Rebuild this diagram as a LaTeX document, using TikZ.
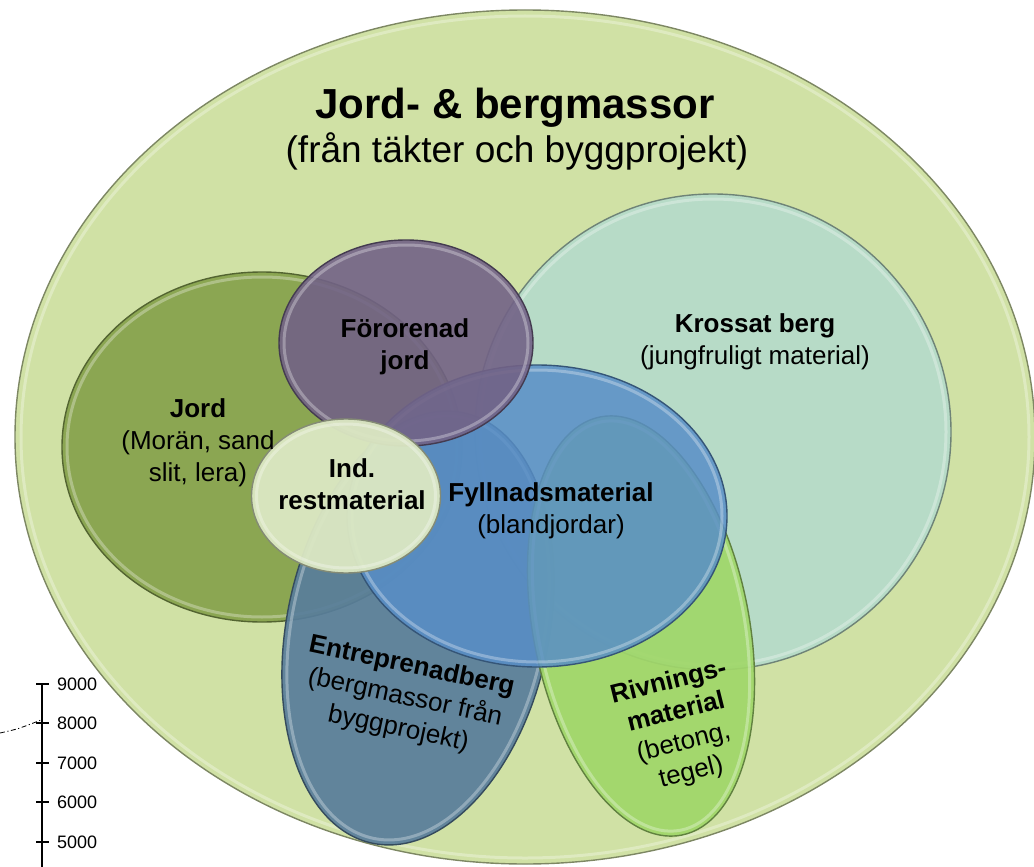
\documentclass[tikz,border=0pt]{standalone}
\usepackage{fontspec}
\setmainfont{Liberation Sans}
\usetikzlibrary{shapes.geometric}
\definecolor{bigc}{RGB}{208,225,165}
\definecolor{jordc}{RGB}{139,166,82}
\definecolor{krossc}{RGB}{183,219,199}
\definecolor{fororc}{RGB}{114,98,134}
\definecolor{fyllc}{RGB}{88,142,199}
\definecolor{entrc}{RGB}{88,125,155}
\definecolor{rivnc}{RGB}{160,215,105}
\definecolor{indc}{RGB}{220,232,195}
\tikzset{
  blob/.style={ellipse, inner sep=0pt, outer sep=0pt, draw=#1!60!black, line width=1.4pt, fill=#1},
  ring/.style={ellipse, inner sep=0pt, outer sep=0pt, draw=white, draw opacity=0.3, line width=3pt},
  lbl/.style={align=center, inner sep=0pt, font=\fontsize{26}{32}\selectfont},
  ticklbl/.style={anchor=west, inner sep=0pt, font=\fontsize{18}{20}\selectfont},
}
\begin{document}
\begin{tikzpicture}[x=1pt, y=-1pt]
\useasboundingbox (0,0) rectangle (1034,867);
% outer ellipse
\node[blob=bigc, minimum width=1020pt, minimum height=854pt] (big) at (525,437) {};
\node[ring, minimum width=1008pt, minimum height=842pt] (bigR) at (big.center) {};
% Jord
\node[blob=jordc, minimum width=400pt, minimum height=350pt] (jord) at (262,447) {};
\node[ring, minimum width=390pt, minimum height=340pt] (jordR) at (jord.center) {};
% Krossat berg
\node[blob=krossc, minimum width=476pt, minimum height=476pt] (kross) at (713,432) {};
\node[ring, minimum width=466pt, minimum height=466pt] (krossR) at (kross.center) {};
% Entreprenadberg
\node[blob=entrc, fill opacity=0.92, minimum width=262pt, minimum height=440pt, rotate=-12] (entr) at (418,628) {};
\node[ring, minimum width=252pt, minimum height=430pt, rotate=-12] (entrR) at (entr.center) {};
% Rivningsmaterial
\node[blob=rivnc, fill opacity=0.92, minimum width=216pt, minimum height=426pt, rotate=11] (rivn) at (641,626) {};
\node[ring, minimum width=206pt, minimum height=416pt, rotate=11] (rivnR) at (rivn.center) {};
% Fyllnadsmaterial
\node[blob=fyllc, fill opacity=0.85, minimum width=380pt, minimum height=302pt] (fyll) at (537,516) {};
\node[ring, minimum width=370pt, minimum height=292pt] (fyllR) at (fyll.center) {};
% Förorenad jord
\node[blob=fororc, fill opacity=0.9, minimum width=254pt, minimum height=206pt] (foror) at (406,343) {};
\node[ring, minimum width=244pt, minimum height=196pt] (fororR) at (foror.center) {};
% Ind. restmaterial
\node[blob=indc, fill opacity=0.95, minimum width=189pt, minimum height=154pt] (ind) at (346,496) {};
\node[ring, minimum width=179pt, minimum height=144pt] (indR) at (ind.center) {};

% labels
\node[inner sep=0pt, anchor=base, font=\fontsize{42}{46}\selectfont\bfseries] (title) at (515,118) {Jord- \& bergmassor};
\node[inner sep=0pt, anchor=base, font=\fontsize{37}{40}\selectfont] (subtitle) at (517,162) {(från täkter och byggprojekt)};
\node[lbl] (krossL) at (755,342) {\textbf{Krossat berg}\\(jungfruligt material)};
\node[lbl] (fororL) at (405,347) {\textbf{Förorenad}\\\textbf{jord}};
\node[lbl] (jordL) at (198,443) {\textbf{Jord}\\(Morän, sand\\slit, lera)};
\node[lbl] (indL) at (352,484) {\textbf{Ind.}\\\textbf{restmaterial}};
\node[lbl] (fyllL) at (551,511) {\textbf{Fyllnadsmaterial}\\(blandjordar)};
\node[lbl, rotate=-12] (entrL) at (405,698) {\textbf{Entreprenadberg}\\(bergmassor från\\byggprojekt)};
\node[lbl, font=\fontsize{26}{31}\selectfont, rotate=14] (rivnL) at (680,728) {\textbf{Rivnings-}\\\textbf{material}\\(betong,\\tegel)};

% axis fragment
\coordinate (axTop) at (42,684);
\coordinate (axBot) at (42,867);
\draw[line width=1.2pt] (axTop) -- (axBot);
\foreach \v/\y in {9000/684, 8000/723, 7000/763, 6000/802, 5000/842} {
  \draw[line width=1.2pt] (36,\y) -- (49,\y);
  \node[ticklbl] (t\v) at (57,\y) {\v};
}
\coordinate (dashStart) at (0,733);
\coordinate (dashEnd) at (41,720);
\draw[line width=0.8pt, dash pattern=on 5pt off 2.5pt on 1.2pt off 2.5pt] (dashStart) .. controls (18,729) .. (dashEnd);
\end{tikzpicture}
\end{document}
